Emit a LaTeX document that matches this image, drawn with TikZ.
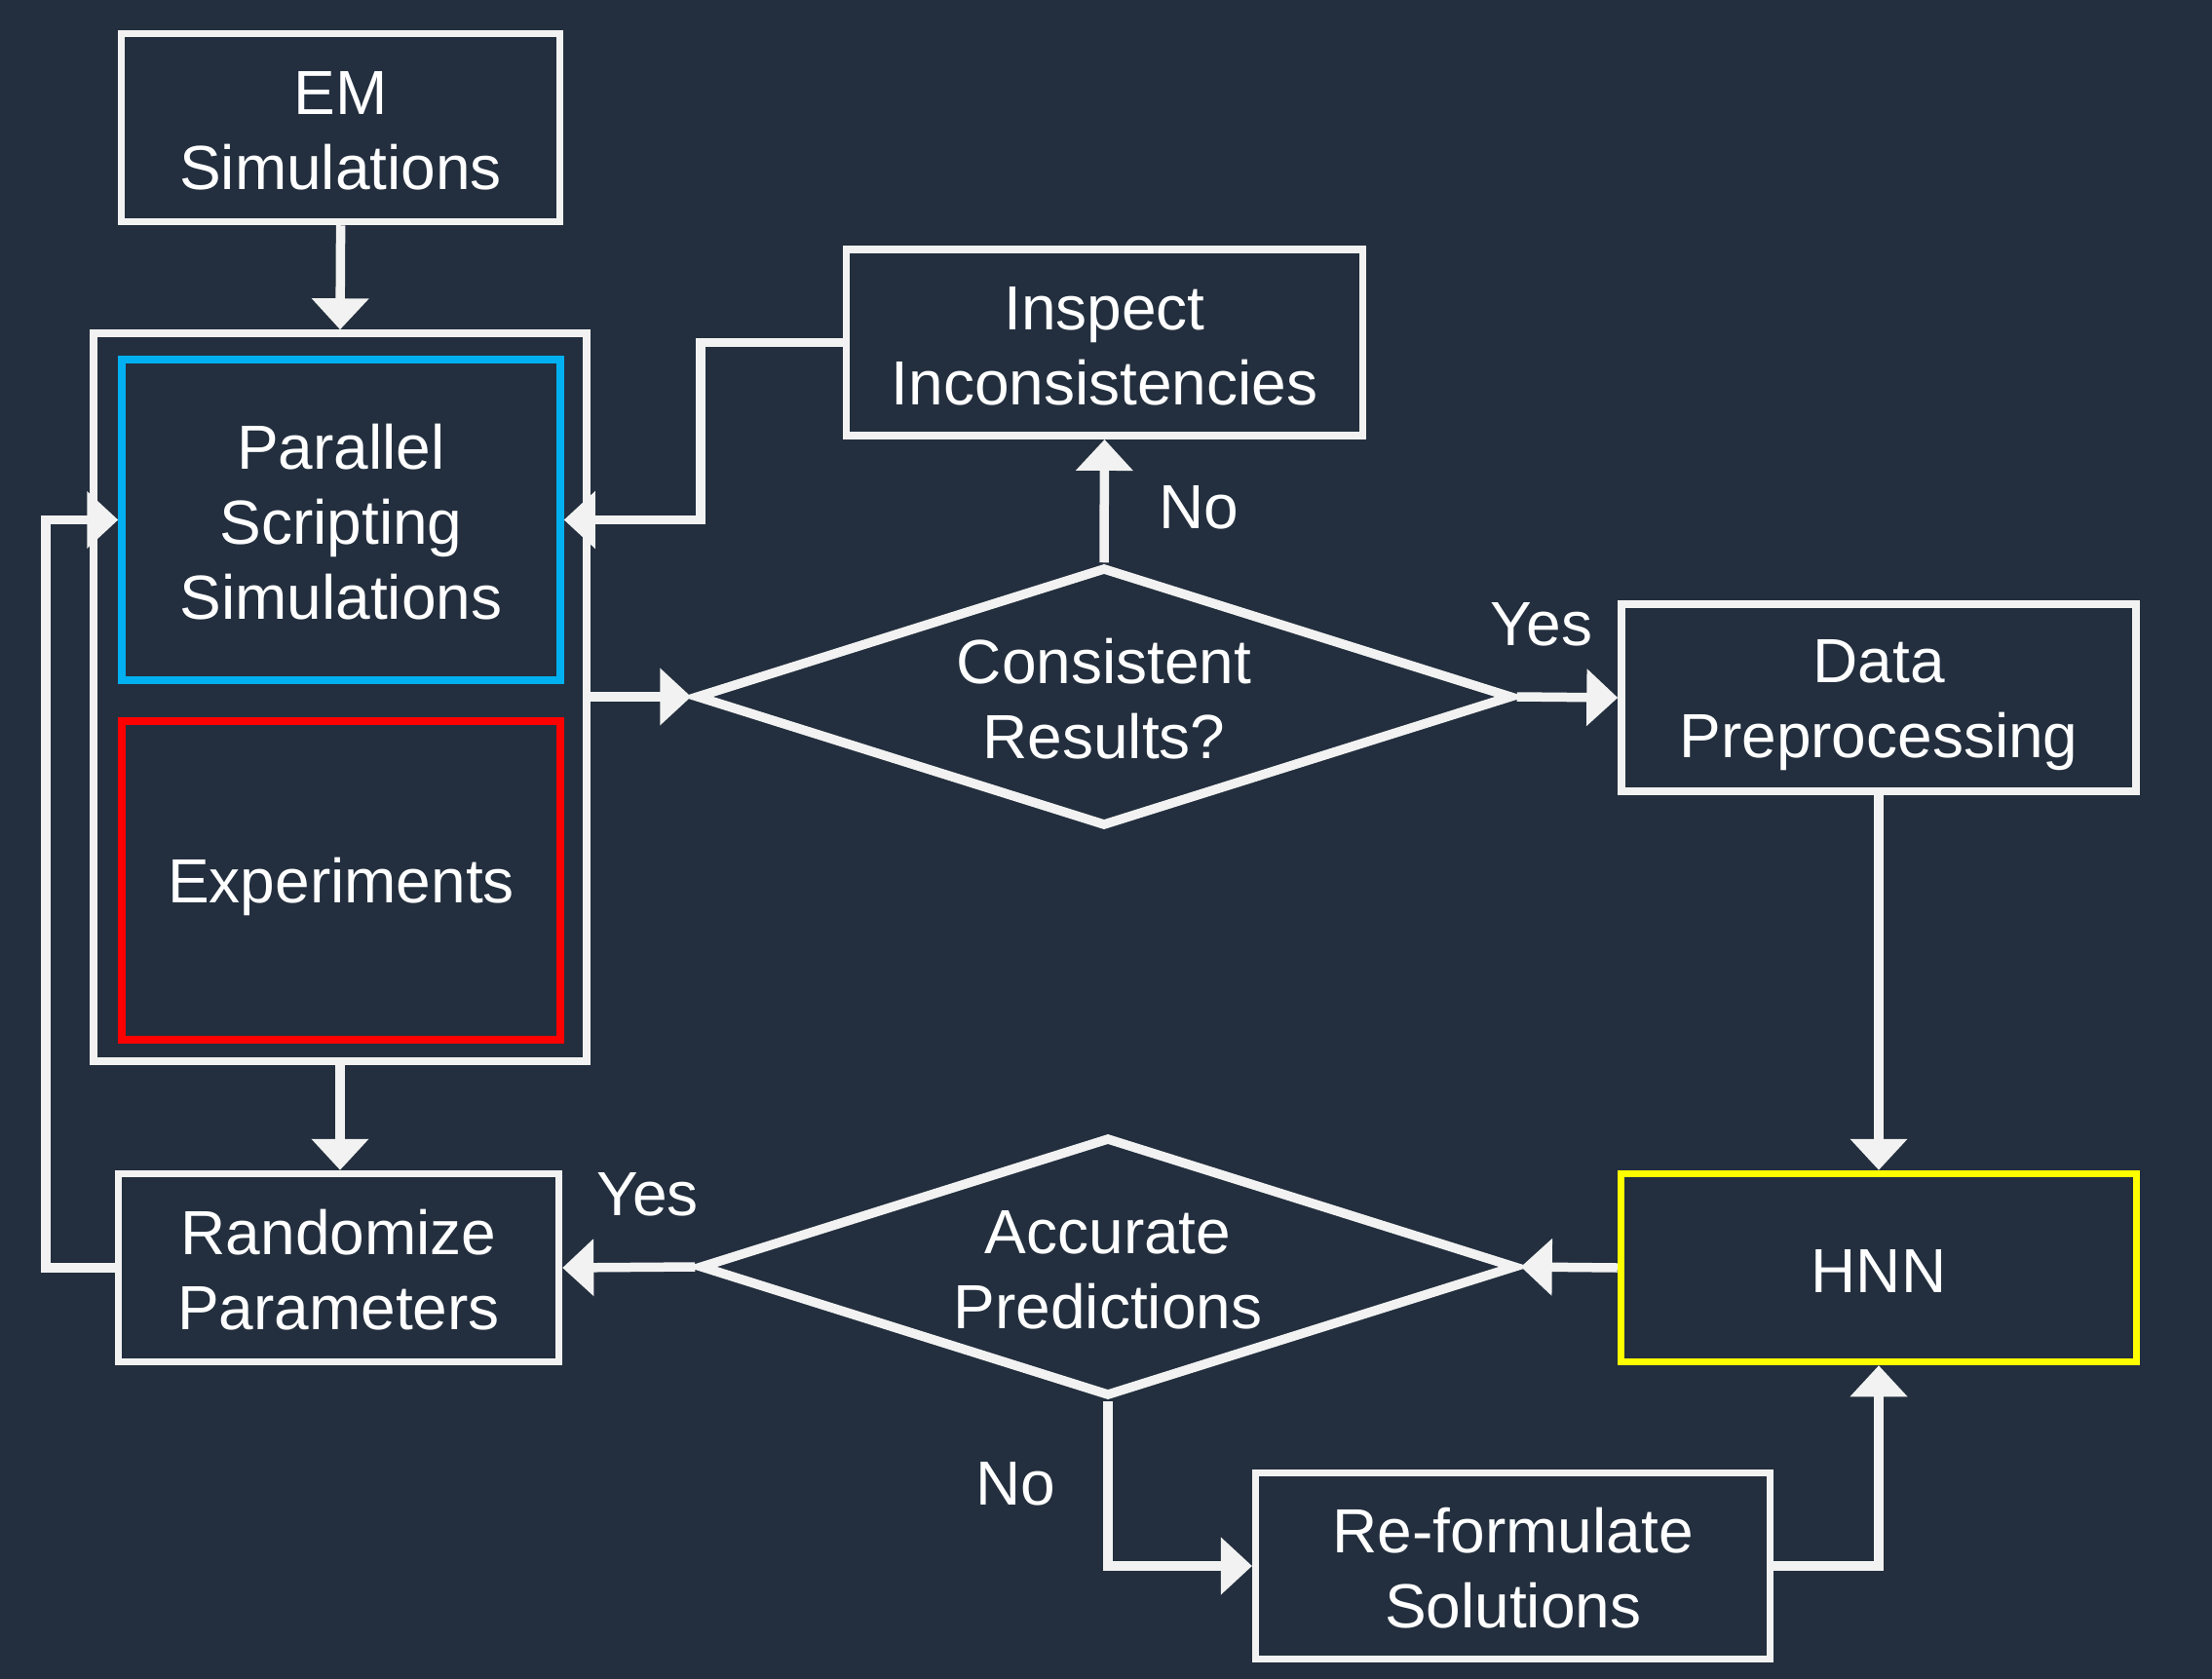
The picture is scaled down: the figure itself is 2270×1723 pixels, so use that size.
\documentclass[tikz,border=0pt]{standalone}
\usepackage{fontspec}
\setmainfont{Liberation Sans}
\usetikzlibrary{arrows.meta,shapes.geometric}
\definecolor{bg}{HTML}{232F3E}
\definecolor{ln}{HTML}{F2F2F2}
\definecolor{bl}{HTML}{00B0F0}
\definecolor{rd}{HTML}{FF0000}
\definecolor{yl}{HTML}{FFFF00}
\newcommand{\mystrut}{\vrule width 0pt height 60pt depth 10pt\relax}
\begin{document}
\begin{tikzpicture}[x=1pt,y=-1pt,
  txt/.style={text=white,font=\fontsize{64}{77}\selectfont,align=center},
  box/.style={txt,draw=ln,line width=7.5pt,rectangle,inner sep=0pt},
  dia/.style={txt,draw=ln,line width=9.5pt,diamond,aspect=3.15,inner sep=0pt,minimum width=838pt,minimum height=266pt},
  arr/.style={draw=ln,line width=9.5pt,-{Triangle[length=32pt,width=57pt]}}]
\fill[bg] (0,0) rectangle (2270,1723);
\useasboundingbox (0,0) rectangle (2270,1723);
\node[box,minimum width=450pt,minimum height=193pt] (em) at (349.6,131) {\mystrut EM\\\mystrut Simulations};
\node[box,minimum width=506pt,minimum height=747pt] (outer) at (349,715.5) {};
\node[box,draw=bl,minimum width=450pt,minimum height=329pt] (par) at (350,533.5) {\mystrut Parallel\\\mystrut Scripting\\\mystrut Simulations};
\node[box,draw=rd,minimum width=450pt,minimum height=327pt] (exp) at (350,903.5) {\mystrut Experiments};
\node[box,minimum width=530pt,minimum height=191pt] (insp) at (1133.5,351.7) {\mystrut Inspect\\\mystrut Inconsistencies};
\node[dia] (cons) at (1133,715) {\mystrut Consistent\\\mystrut Results?};
\node[box,minimum width=528pt,minimum height=192pt] (data) at (1928,716) {\mystrut Data\\\mystrut Preprocessing};
\node[box,draw=yl,minimum width=529pt,minimum height=193pt] (hnn) at (1928,1301) {\mystrut HNN};
\node[dia] (acc) at (1137,1300) {\mystrut Accurate\\\mystrut Predictions};
\node[box,minimum width=452pt,minimum height=193pt] (rand) at (347.5,1301) {\mystrut Randomize\\\mystrut Parameters};
\node[box,minimum width=528pt,minimum height=191pt] (ref) at (1552.7,1607) {\mystrut Re-formulate\\\mystrut Solutions};
\node[txt] (no1) at (1230.5,521) {No};
\node[txt] (yes1) at (1582,641) {Yes};
\node[txt] (yes2) at (664.5,1226) {Yes};
\node[txt] (no2) at (1042.4,1523) {No};
\draw[arr] (em.south) -- (outer.north);
\draw[arr] (outer.east |- cons.west) -- (cons.west);
\draw[arr] (cons.east) -- (data.west);
\draw[arr] (cons.north) -- (insp.south);
\draw[arr] (insp.west) -- ++(-146,0) |- (par.east);
\draw[arr] (outer.south) -- (outer.south |- rand.north);
\draw[arr] (rand.west) -- ++(-71,0) |- (par.west);
\draw[arr] (data.south) -- (hnn.north);
\draw[arr] (hnn.west) -- (acc.east);
\draw[arr] (acc.west) -- (rand.east);
\draw[arr] (acc.south) |- (ref.west);
\draw[arr] (ref.east) -| (hnn.south);
\end{tikzpicture}
\end{document}
